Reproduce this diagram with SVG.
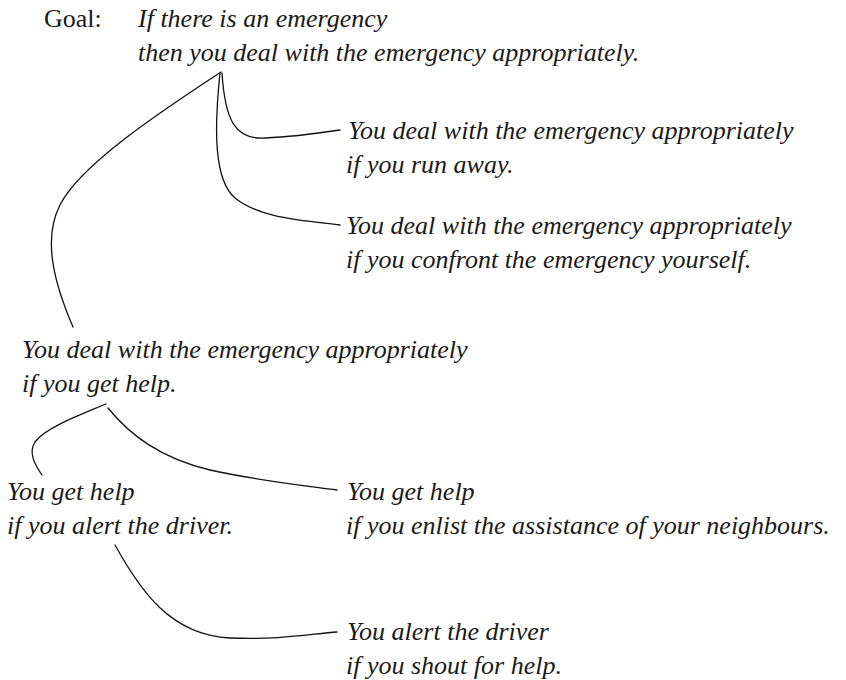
<svg xmlns="http://www.w3.org/2000/svg" width="846" height="680" viewBox="0 0 846 680">
  <style>
    .t { font-family: "Liberation Serif", "Times New Roman", serif; font-size: 26px; font-style: italic; fill: #1a1a1a; }
    .label { font-family: "Liberation Serif", "Times New Roman", serif; font-size: 26px; fill: #1a1a1a; }
    .c { fill: none; stroke: #111; stroke-width: 1.3; stroke-linecap: round; }
  </style>
  <rect width="846" height="680" fill="#fff"/>
  <g id="connectors">
    <path class="c" d="M221,72 C160,112 80,165 60,205 C42,240 55,285 73,327"/>
    <path class="c" d="M222,73 C225,120 235,140 265,138 C290,137 320,133 340,130"/>
    <path class="c" d="M220,73 C214,130 214,180 235,198 C260,218 300,220 340,225"/>
    <path class="c" d="M106,404 C80,415 45,428 35,442 C28,453 35,465 42,475"/>
    <path class="c" d="M108,408 C130,435 160,458 210,470 C260,481 300,485 337,490"/>
    <path class="c" d="M115,545 C140,590 170,635 230,638 C280,640 310,634 337,632"/>
  </g>
  <g id="goal">
    <text class="label" x="44" y="27">Goal:</text>
    <text class="t" x="138" y="27">If there is an emergency</text>
    <text class="t" x="138" y="61">then you deal with the emergency appropriately.</text>
  </g>
  <g id="run-away">
    <text class="t" x="348" y="139">You deal with the emergency appropriately</text>
    <text class="t" x="346" y="173">if you run away.</text>
  </g>
  <g id="confront">
    <text class="t" x="346" y="234">You deal with the emergency appropriately</text>
    <text class="t" x="346" y="268">if you confront the emergency yourself.</text>
  </g>
  <g id="get-help">
    <text class="t" x="22" y="358">You deal with the emergency appropriately</text>
    <text class="t" x="22" y="392">if you get help.</text>
  </g>
  <g id="alert-driver">
    <text class="t" x="7" y="500">You get help</text>
    <text class="t" x="7" y="534">if you alert the driver.</text>
  </g>
  <g id="neighbours">
    <text class="t" x="347" y="500">You get help</text>
    <text class="t" x="346" y="534">if you enlist the assistance of your neighbours.</text>
  </g>
  <g id="shout">
    <text class="t" x="347" y="640">You alert the driver</text>
    <text class="t" x="346" y="674">if you shout for help.</text>
  </g>
</svg>
